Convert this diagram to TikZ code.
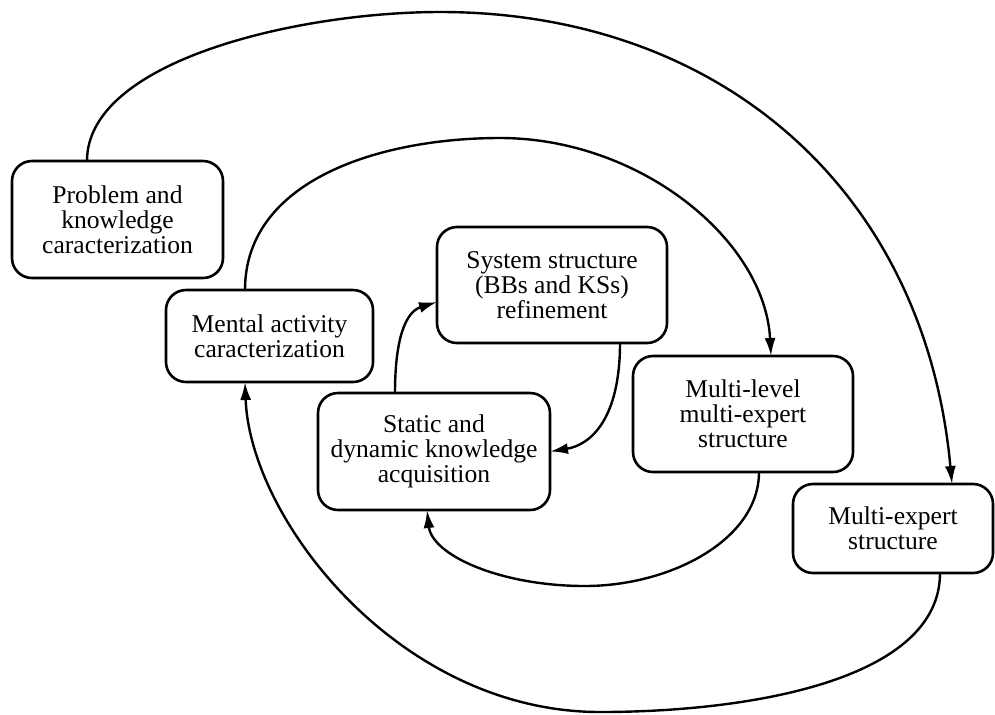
\documentclass[tikz,border=0pt]{standalone}
\usepackage{fontspec}
\setmainfont{Liberation Serif}
\newfontfamily\boxfont{Liberation Serif}
\usetikzlibrary{arrows.meta,calc}
\tikzset{
  stage/.style={draw, line width=1.3pt, rounded corners=10pt, align=center, outer sep=0pt, inner sep=0pt,
    font=\boxfont\fontsize{12.8pt}{12.5pt}\selectfont},
  conn/.style={line width=1.2pt, -{Latex[length=9pt,width=5.5pt]}}
}
\begin{document}
\begin{tikzpicture}[x=0.5pt,y=-0.5pt]
\useasboundingbox (0,0) rectangle (995,714);
% stages
\node[stage, minimum width=105.5pt, minimum height=58.5pt] (b1) at (117.5,219.5) {Problem and\\knowledge\\caracterization};
\node[stage, minimum width=103.5pt, minimum height=46pt] (b2) at (269.5,336) {Mental activity\\caracterization};
\node[stage, minimum width=115pt, minimum height=58pt] (b3) at (552,285) {System structure\\(BBs and KSs)\\refinement};
\node[stage, minimum width=116pt, minimum height=58.5pt] (b4) at (434,451.5) {Static and\\dynamic knowledge\\acquisition};
\node[stage, minimum width=110pt, minimum height=58pt] (b5) at (743,414) {Multi-level\\multi-expert\\structure};
\node[stage, minimum width=100pt, minimum height=44.5pt] (b6) at (893,528.5) {Multi-expert\\structure};
% waypoints
\coordinate (topA) at (440,12);
\coordinate (botB) at (600,712);
\coordinate (topC) at (500,138);
\coordinate (botD) at (585,586);
% outer: b1 -> b6
\draw[conn] ($(b1.north)+(-30.5,0)$) .. controls (87,60) and (300,12) .. (topA)
  .. controls (720,12) and (925,190) .. ($(b6.north)+(59,0)$);
% b6 -> b2
\draw[conn] ($(b6.south)+(47,0)$) .. controls (940,680) and (750,712) .. (botB)
  .. controls (400,712) and (250,520) .. ($(b2.south)+(-24.5,0)$);
% b2 -> b5
\draw[conn] ($(b2.north)+(-24.5,0)$) .. controls (245,180) and (380,138) .. (topC)
  .. controls (640,138) and (765,240) .. ($(b5.north)+(28,0)$);
% b5 -> b4
\draw[conn] ($(b5.south)+(16,0)$) .. controls (759,540) and (670,586) .. (botD)
  .. controls (500,586) and (432,555) .. ($(b4.south)+(-7,0)$);
% b3 -> b4
\draw[conn] ($(b3.south)+(68,0)$) .. controls (620,420) and (590,445) .. (b4.east);
% b4 -> b3
\draw[conn] ($(b4.north)+(-39,0)$) .. controls (395,340) and (405,312) .. ($(b3.west)+(0,17)$);
\end{tikzpicture}
\end{document}
